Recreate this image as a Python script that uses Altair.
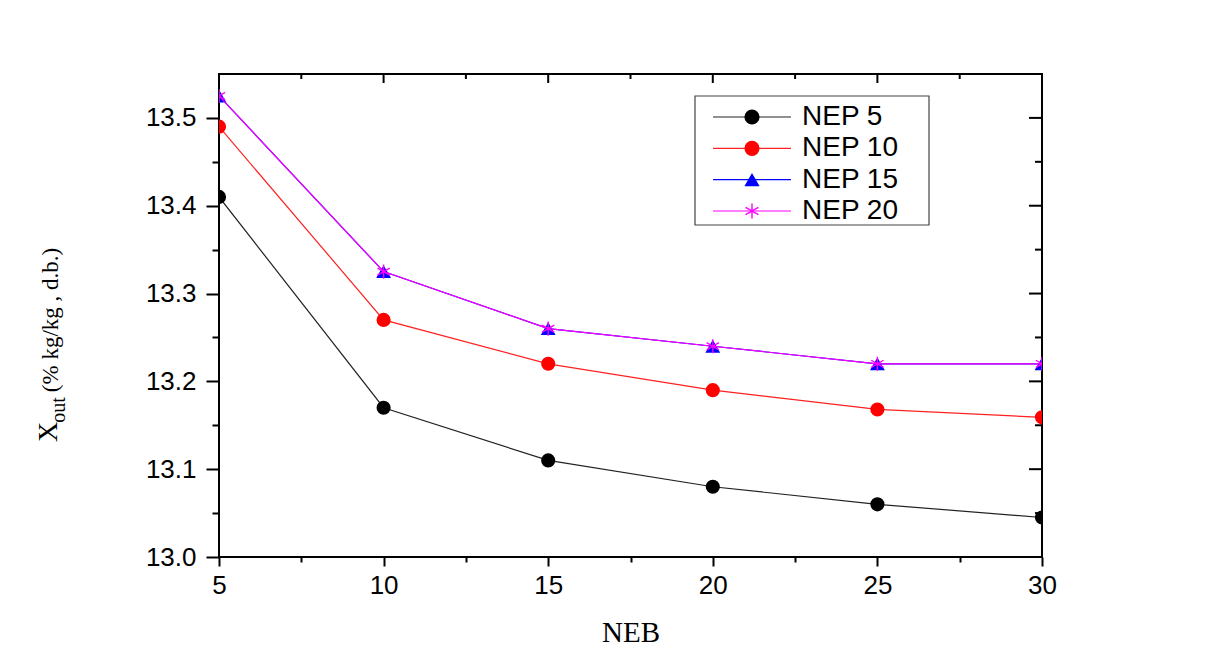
import altair as alt
import pandas as pd

# ---- data ----
neb = [5, 10, 15, 20, 25, 30]
series_names = ["NEP 5", "NEP 10", "NEP 15", "NEP 20"]
nep5 = [13.41, 13.17, 13.11, 13.08, 13.06, 13.045]
nep10 = [13.49, 13.27, 13.22, 13.19, 13.168, 13.159]
nep15 = [13.525, 13.325, 13.26, 13.24, 13.22, 13.22]
nep20 = [13.525, 13.325, 13.26, 13.24, 13.22, 13.22]

x_major = [5, 10, 15, 20, 25, 30]
x_minor = [7.5, 12.5, 17.5, 22.5, 27.5]
y_major = [13.0, 13.1, 13.2, 13.3, 13.4, 13.5]
y_minor = [13.05, 13.15, 13.25, 13.35, 13.45]

colors = ["#000000", "#ff0000", "#0000ff", "#ff00ff"]
line_colors = ["#222222", "#ff2020", "#0000ff", "#ff00ff"]
asterisk = "M0,-1L0,1M-0.866,-0.5L0.866,0.5M-0.866,0.5L0.866,-0.5"
shapes = ["circle", "circle", "triangle-up", asterisk]

rows = []
for name, vals in zip(series_names, [nep5, nep10, nep15, nep20]):
    for xv, yv in zip(neb, vals):
        rows.append({"series": name, "NEB": xv, "X": yv})
df = pd.DataFrame(rows)

W, H = 823, 483
XD = [5, 30]
YD = [13.0, 13.55]
SANS = "Liberation Sans"
SERIF = "Liberation Serif"


def xs(axis=None, field="NEB"):
    if axis is None:
        return alt.X(f"{field}:Q", scale=alt.Scale(domain=XD, nice=False, zero=False), axis=None)
    return alt.X(f"{field}:Q", scale=alt.Scale(domain=XD, nice=False, zero=False), axis=axis, title=None)


def ys(axis=None, field="X"):
    if axis is None:
        return alt.Y(f"{field}:Q", scale=alt.Scale(domain=YD, nice=False, zero=False), axis=None)
    return alt.Y(f"{field}:Q", scale=alt.Scale(domain=YD, nice=False, zero=False), axis=axis, title=None)


base = alt.Chart(df)
layers = []

# main axes (bottom / left, outward ticks, labels)
layers.append(base.mark_point(opacity=0).encode(
    x=alt.X("NEB:Q", scale=alt.Scale(domain=XD, nice=False, zero=False),
            axis=alt.Axis(orient="bottom", values=x_major, tickSize=9, tickWidth=2,
                          tickColor="black", domain=False, grid=False, labelFont=SANS,
                          labelFontSize=26, labelColor="black", labelPadding=6,
                          labelFlush=False, title="NEB", titleFont=SERIF, titleFontSize=29,
                          titleFontWeight="normal", titleColor="black", titlePadding=20)),
    y=ys(alt.Axis(orient="left", values=y_major, format=".1f", tickSize=13, tickWidth=2,
                  tickColor="black", domain=False, grid=False, labelFont=SANS,
                  labelFontSize=26, labelColor="black", labelPadding=10)),
))

# minor ticks bottom / left (outward)
layers.append(base.mark_point(opacity=0).encode(
    x=xs(alt.Axis(orient="bottom", values=x_minor, tickSize=5, tickWidth=2, tickColor="black",
                  domain=False, grid=False, labels=False)),
    y=ys(alt.Axis(orient="left", values=y_minor, tickSize=7, tickWidth=2, tickColor="black",
                  domain=False, grid=False, labels=False)),
))

# inward ticks on top and right edges, placed through the scales
tx_major = pd.DataFrame({"t": x_major})
tx_minor = pd.DataFrame({"t": x_minor})
ty_major = pd.DataFrame({"t": y_major})
ty_minor = pd.DataFrame({"t": y_minor})
layers.append(alt.Chart(tx_major).mark_rule(color="black", strokeWidth=2).encode(
    x=xs(field="t"), y=alt.value(0), y2=alt.value(9)))
layers.append(alt.Chart(tx_minor).mark_rule(color="black", strokeWidth=2).encode(
    x=xs(field="t"), y=alt.value(0), y2=alt.value(5)))
layers.append(alt.Chart(ty_major).mark_rule(color="black", strokeWidth=2).encode(
    y=ys(field="t"), x=alt.value(W - 13), x2=alt.value(W)))
layers.append(alt.Chart(ty_minor).mark_rule(color="black", strokeWidth=2).encode(
    y=ys(field="t"), x=alt.value(W - 7), x2=alt.value(W)))

# data series: line then markers, per series in order
for name, col, lcol, shp in zip(series_names, colors, line_colors, shapes):
    sub = base.transform_filter(alt.datum.series == name)
    layers.append(sub.mark_line(color=lcol, strokeWidth=1.2, clip=True).encode(
        x=xs(), y=ys()))
    if shp == asterisk:
        pt = sub.mark_point(shape=shp, color=col, filled=False, strokeWidth=1.4,
                            size=200, opacity=1, clip=True)
    else:
        pt = sub.mark_point(shape=shp, color=col, filled=True,
                            size=200 if shp == "circle" else 220, opacity=1, clip=True)
    layers.append(pt.encode(x=xs(), y=ys()))

# ---- legend ----
leg = pd.DataFrame({"series": series_names, "row": [0, 1, 2, 3]})
leg_box = pd.DataFrame({"a": [0]})
ly = alt.Y("row:Q", scale=alt.Scale(domain=[0, 3], range=[43, 137]), axis=None)

layers.append(alt.Chart(leg_box).mark_rect(fill="white", stroke="#444444", strokeWidth=1.2).encode(
    x=alt.value(476), x2=alt.value(710), y=alt.value(22), y2=alt.value(151)))
for name, col, lcol, shp in zip(series_names, colors, line_colors, shapes):
    sub = alt.Chart(leg).transform_filter(alt.datum.series == name)
    layers.append(sub.mark_rule(color=lcol, strokeWidth=1.2).encode(
        x=alt.value(494), x2=alt.value(572), y=ly))
    if shp == asterisk:
        pt = sub.mark_point(shape=shp, color=col, filled=False, strokeWidth=1.4, size=220, opacity=1)
    else:
        pt = sub.mark_point(shape=shp, color=col, filled=True, size=230, opacity=1)
    layers.append(pt.encode(x=alt.value(533), y=ly))
layers.append(alt.Chart(leg).mark_text(align="left", baseline="middle", font=SANS,
                                       fontSize=28, color="black").encode(
    x=alt.value(583), y=ly, text="series:N"))

# ---- y title with subscript ----
t_main = "X"
t_sub = "out"
t_rest = "(% kg/kg , d.b.)"
one = pd.DataFrame({"a": [0]})
layers.append(alt.Chart(one).mark_text(angle=270, align="center", baseline="alphabetic",
                                       font=SERIF, fontSize=28, color="black").encode(
    x=alt.value(-162), y=alt.value(358), text=alt.value(t_main)))
layers.append(alt.Chart(one).mark_text(angle=270, align="center", baseline="alphabetic",
                                       font=SERIF, fontSize=20, color="black").encode(
    x=alt.value(-154), y=alt.value(336), text=alt.value(t_sub)))
layers.append(alt.Chart(one).mark_text(angle=270, align="center", baseline="alphabetic",
                                       font=SERIF, fontSize=23, color="black").encode(
    x=alt.value(-161), y=alt.value(246), text=alt.value(t_rest)))

chart = alt.layer(*layers).resolve_scale(x="independent", y="independent").properties(
    width=W, height=H, autosize="none",
    padding={"left": 211, "top": 66, "right": 150, "bottom": 90},
    background="white",
).configure_view(stroke="black", strokeWidth=2)

chart.save("out.html", embed_options={"renderer": "svg", "actions": False})
